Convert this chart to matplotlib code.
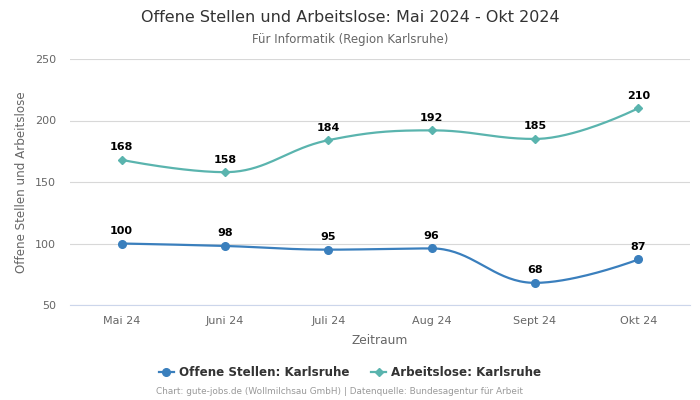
import matplotlib
matplotlib.use("Agg")
import matplotlib.pyplot as plt
import numpy as np
from matplotlib.lines import Line2D

categories = ["Mai 24", "Juni 24", "Juli 24", "Aug 24", "Sept 24", "Okt 24"]
offene = [100, 98, 95, 96, 68, 87]
arbeitslose = [168, 158, 184, 192, 185, 210]
yticks = [50, 100, 150, 200, 250]

c_off = "#3a7fbd"
c_arb = "#5ab4ae"


def spline(xs, ys, n=40):
    xs = list(map(float, xs)); ys = list(map(float, ys))
    sm = 1.5; den = sm + 1
    L = []; R = []
    for i in range(len(xs)):
        if i == 0 or i == len(xs) - 1:
            L.append((xs[i], ys[i])); R.append((xs[i], ys[i])); continue
        px, py = xs[i], ys[i]
        lx, ly = xs[i-1], ys[i-1]
        nx, ny = xs[i+1], ys[i+1]
        lcx = (sm*px + lx)/den; lcy = (sm*py + ly)/den
        rcx = (sm*px + nx)/den; rcy = (sm*py + ny)/den
        if rcx != lcx:
            corr = ((rcy - lcy)*(rcx - px))/(rcx - lcx) + py - rcy
            lcy += corr; rcy += corr
        if lcy > ly and lcy > py:
            lcy = max(ly, py); rcy = 2*py - lcy
        elif lcy < ly and lcy < py:
            lcy = min(ly, py); rcy = 2*py - lcy
        if rcy > ny and rcy > py:
            rcy = max(ny, py); lcy = 2*py - rcy
        elif rcy < ny and rcy < py:
            rcy = min(ny, py); lcy = 2*py - rcy
        L.append((lcx, lcy)); R.append((rcx, rcy))
    X = []; Y = []
    t = np.linspace(0, 1, n)
    for i in range(len(xs)-1):
        p0 = np.array([xs[i], ys[i]]); p1 = np.array(R[i])
        p2 = np.array(L[i+1]); p3 = np.array([xs[i+1], ys[i+1]])
        pts = ((1-t)**3)[:, None]*p0 + (3*(1-t)**2*t)[:, None]*p1 + (3*(1-t)*t**2)[:, None]*p2 + (t**3)[:, None]*p3
        X.extend(pts[:, 0]); Y.extend(pts[:, 1])
    return X, Y


fig = plt.figure(figsize=(7, 4), dpi=100)
ax = fig.add_axes([0.1, 0.2375, 0.8857, 0.615])
x = np.arange(len(categories))

for vals, col, mk, ms in [(arbeitslose, c_arb, "D", 3.8), (offene, c_off, "o", 5.5)]:
    sx, sy = spline(x, vals)
    ax.plot(sx, sy, color=col, lw=1.6, zorder=3)
    ax.plot(x, vals, linestyle="none", marker=mk, color=col, ms=ms, zorder=4)
    for xi, v in zip(x, vals):
        ax.annotate(str(v), (xi, v), xytext=(0, 5.5), textcoords="offset points",
                    ha="center", va="bottom", fontsize=8, fontweight="bold", color="#000000", zorder=5)

ax.set_xlim(-0.5, len(categories) - 0.5)
ax.set_ylim(50, 250)
ax.set_yticks(yticks)
ax.set_xticks(x)
ax.set_xticklabels(categories)
ax.grid(axis="y", color="#d8d8d8", lw=0.8)
ax.set_axisbelow(True)
for s in ["top", "right", "left"]:
    ax.spines[s].set_visible(False)
ax.spines["bottom"].set_color("#ccd6eb")
ax.tick_params(axis="both", length=0, labelsize=8, labelcolor="#666666", pad=8)
ax.tick_params(axis="y", pad=10)
ax.set_xlabel("Zeitraum", fontsize=8.8, color="#666666", labelpad=6)
ax.set_ylabel("Offene Stellen und Arbeitslose", fontsize=8.6, color="#666666", labelpad=5)

fig.text(0.5, 1 - 17/400, "Offene Stellen und Arbeitslose: Mai 2024 - Okt 2024", ha="center", va="center",
         fontsize=11.5, color="#333333")
fig.text(0.5, 1 - 39/400, "Für Informatik (Region Karlsruhe)", ha="center", va="center",
         fontsize=8.5, color="#666666")

handles = [Line2D([], [], color=c_off, marker="o", ms=5.5, lw=1.6),
           Line2D([], [], color=c_arb, marker="D", ms=3.8, lw=1.6)]
leg = fig.legend(handles, ["Offene Stellen: Karlsruhe", "Arbeitslose: Karlsruhe"], loc="center",
                 bbox_to_anchor=(0.5, 1 - 373/400), ncol=2, frameon=False, handlelength=1.3,
                 handletextpad=0.4, columnspacing=1.8,
                 prop={"size": 8.6, "weight": "bold"})
for t in leg.get_texts():
    t.set_color("#333333")

fig.text(0.485, 1 - 392/400, "Chart: gute-jobs.de (Wollmilchsau GmbH) | Datenquelle: Bundesagentur für Arbeit",
         ha="center", va="center", fontsize=6.4, color="#999999")

fig.savefig("out.png", dpi=100)
